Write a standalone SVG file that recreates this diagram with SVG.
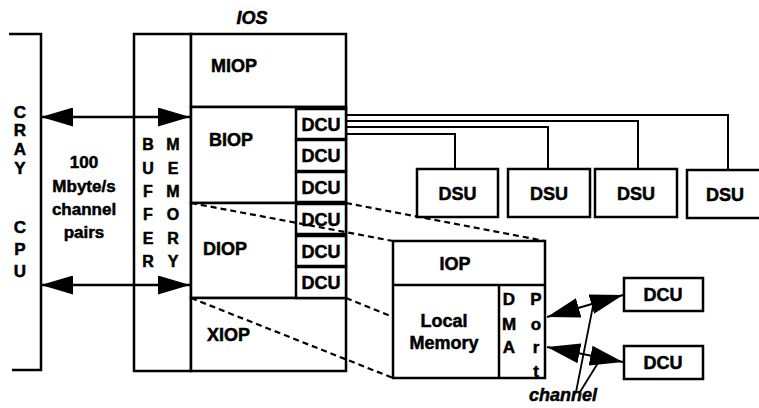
<svg xmlns="http://www.w3.org/2000/svg" width="759" height="408" viewBox="0 0 759 408">
<style>
.box{fill:#fff;stroke:#000;stroke-width:2.5}
.ln{fill:none;stroke:#000;stroke-width:2.5}
.cn{fill:none;stroke:#000;stroke-width:2}
.thin{fill:none;stroke:#000;stroke-width:1.8}
.dash{fill:none;stroke:#000;stroke-width:2.2;stroke-dasharray:6 4}
text{font-family:"Liberation Sans",Arial,sans-serif;font-weight:bold;fill:#000;stroke:#000;stroke-width:0.5}
.lbl{font-size:18px}
.mid{text-anchor:middle}
.ltr{font-size:17px;text-anchor:middle}
.buf{font-size:16px;text-anchor:middle}
.txt{font-size:17px;text-anchor:middle}
.it{font-style:italic;font-size:18px;text-anchor:middle}
</style>
<defs>
<marker id="ah" viewBox="0 0 32 19" refX="32" refY="9.5" markerWidth="32" markerHeight="19" markerUnits="userSpaceOnUse" orient="auto-start-reverse"><path d="M0,0 L32,9.5 L0,19 z" fill="#000"/></marker>
<marker id="ah2" viewBox="0 0 33 20" refX="33" refY="10" markerWidth="33" markerHeight="20" markerUnits="userSpaceOnUse" orient="auto-start-reverse"><path d="M0,0 L33,10 L0,20 z" fill="#000"/></marker>
</defs>
<rect width="759" height="408" fill="#fff"/>

<g id="cray-cpu">
<path class="ln" d="M9,34 H41 V370 H12"/>
<text class="ltr" x="20" y="118">C</text>
<text class="ltr" x="20" y="136">R</text>
<text class="ltr" x="20" y="155">A</text>
<text class="ltr" x="20" y="174">Y</text>
<text class="ltr" x="20" y="233">C</text>
<text class="ltr" x="20" y="255">P</text>
<text class="ltr" x="20" y="277">U</text>
</g>

<g id="channel-pairs-label">
<text class="txt" x="84" y="168">100</text>
<text class="txt" x="84" y="192">Mbyte/s</text>
<text class="txt" x="84" y="215">channel</text>
<text class="txt" x="84" y="238">pairs</text>
</g>

<g id="ios">
<text class="it" x="252" y="24">IOS</text>
<g id="buffer-memory">
<rect class="box" x="134" y="34" width="57" height="337"/>
<text class="buf" x="148" y="150">B</text>
<text class="buf" x="148" y="174">U</text>
<text class="buf" x="148" y="197">F</text>
<text class="buf" x="148" y="220">F</text>
<text class="buf" x="148" y="244">E</text>
<text class="buf" x="148" y="267">R</text>
<text class="buf" x="173" y="150">M</text>
<text class="buf" x="173" y="174">E</text>
<text class="buf" x="173" y="197">M</text>
<text class="buf" x="173" y="220">O</text>
<text class="buf" x="173" y="244">R</text>
<text class="buf" x="173" y="267">Y</text>
</g>
<g id="miop">
<rect class="box" x="191" y="34" width="155" height="73"/>
<text class="lbl" x="211" y="72">MIOP</text>
</g>
<g id="biop">
<rect class="box" x="191" y="107" width="155" height="96"/>
<text class="lbl" x="209" y="146">BIOP</text>
</g>
<g id="diop">
<rect class="box" x="191" y="203" width="155" height="95"/>
<text class="lbl" x="203" y="255">DIOP</text>
</g>
<g id="xiop">
<rect class="box" x="191" y="298" width="155" height="73"/>
<text class="lbl" x="207" y="341">XIOP</text>
</g>
<g id="dcu-1"><rect class="box" x="296" y="109" width="50" height="30"/><text class="lbl mid" x="321" y="130.5">DCU</text></g>
<g id="dcu-2"><rect class="box" x="296" y="140" width="50" height="31"/><text class="lbl mid" x="321" y="162">DCU</text></g>
<g id="dcu-3"><rect class="box" x="296" y="172" width="50" height="30"/><text class="lbl mid" x="321" y="193.5">DCU</text></g>
<g id="dcu-4"><rect class="box" x="296" y="204" width="50" height="30"/><text class="lbl mid" x="321" y="225.5">DCU</text></g>
<g id="dcu-5"><rect class="box" x="296" y="236" width="50" height="30"/><text class="lbl mid" x="321" y="257.5">DCU</text></g>
<g id="dcu-6"><rect class="box" x="296" y="267" width="50" height="31"/><text class="lbl mid" x="321" y="289">DCU</text></g>
</g>

<g id="dsu-1"><rect class="box" x="417" y="169" width="81" height="48"/><text class="lbl mid" x="457.5" y="200">DSU</text></g>
<g id="dsu-2"><rect class="box" x="508" y="169" width="82" height="48"/><text class="lbl mid" x="549" y="200">DSU</text></g>
<g id="dsu-3"><rect class="box" x="595" y="169" width="82" height="48"/><text class="lbl mid" x="636" y="200">DSU</text></g>
<g id="dsu-4"><rect class="box" x="687" y="170" width="80" height="48"/><text class="lbl mid" x="725" y="201">DSU</text></g>

<g id="connectors">
<path class="cn" d="M346,115 H728 V170"/>
<path class="cn" d="M346,121 H638 V169"/>
<path class="cn" d="M346,127 H548 V169"/>
<path class="cn" d="M346,134 H455 V169"/>
<path class="dash" d="M191,203 L393,241"/>
<path class="dash" d="M346,203 L545,241"/>
<path class="dash" d="M191,298 L393,378"/>
<path class="dash" d="M346,298 L545,378"/>
<line class="ln" x1="41" y1="117" x2="190" y2="117" marker-start="url(#ah)" marker-end="url(#ah)"/>
<line class="ln" x1="41" y1="285" x2="190" y2="285" marker-start="url(#ah)" marker-end="url(#ah)"/>
<line class="cn" x1="547" y1="317" x2="623" y2="295" marker-start="url(#ah2)" marker-end="url(#ah2)"/>
<line class="cn" x1="547" y1="347" x2="623" y2="362" marker-start="url(#ah2)" marker-end="url(#ah2)"/>
<path class="thin" d="M576,392 L593,306 M580,392 L601,358"/>
</g>

<g id="iop">
<rect class="box" x="393" y="241" width="152" height="137"/>
<line class="ln" x1="393" y1="285" x2="545" y2="285"/>
<line class="ln" x1="499" y1="285" x2="499" y2="378"/>
<text class="lbl mid" x="455" y="270">IOP</text>
<text class="lbl mid" x="444" y="327">Local</text>
<text class="lbl mid" x="444" y="349">Memory</text>
<text class="txt" x="509" y="305">D</text>
<text class="txt" x="509" y="330">M</text>
<text class="txt" x="509" y="353">A</text>
<text class="txt" x="536" y="305">P</text>
<text class="txt" x="536" y="330">o</text>
<text class="txt" x="536" y="353">r</text>
<text class="txt" x="536" y="377">t</text>
</g>

<g id="dcu-a"><rect class="box" x="624" y="278" width="79" height="33"/><text class="lbl mid" x="663" y="301">DCU</text></g>
<g id="dcu-b"><rect class="box" x="624" y="346" width="79" height="33"/><text class="lbl mid" x="663" y="369">DCU</text></g>

<g id="channel-label"><text class="it" x="563" y="401">channel</text></g>
</svg>
